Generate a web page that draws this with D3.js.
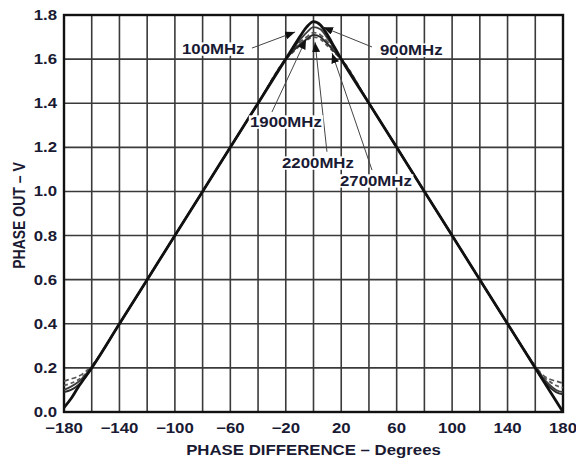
<!DOCTYPE html>
<html>
<head>
<meta charset="utf-8">
<script src="https://cdn.jsdelivr.net/npm/d3@7"></script>
<style>
  html, body { margin: 0; padding: 0; background: #fff; }
  svg { display: block; }
  text { font-family: "Liberation Sans", Arial, sans-serif; font-weight: bold; fill: #1a1a33; }
</style>
</head>
<body>
<svg id="chart" width="576" height="459"></svg>
<script>
// ---- data ----
const phaseDeg = [-180, -175, -170, -165, -160, -140, -120, -100, -80, -60, -40, -20, -15, -10, -5, 0, 5, 10, 15, 20, 40, 60, 80, 100, 120, 140, 160, 165, 170, 175, 180];

const seriesNames = ["100MHz", "900MHz", "1900MHz", "2200MHz", "2700MHz"];

const v100MHz  = [0.02, 0.06, 0.11, 0.155, 0.20, 0.40, 0.60, 0.80, 1.00, 1.20, 1.40, 1.60, 1.65, 1.70, 1.745, 1.77, 1.755, 1.71, 1.655, 1.60, 1.40, 1.20, 1.00, 0.80, 0.60, 0.40, 0.20, 0.15, 0.10, 0.05, 0.00];
const v900MHz  = [0.10, 0.115, 0.135, 0.165, 0.205, 0.40, 0.60, 0.80, 1.00, 1.20, 1.40, 1.60, 1.645, 1.685, 1.72, 1.745, 1.735, 1.695, 1.65, 1.60, 1.40, 1.20, 1.00, 0.80, 0.60, 0.40, 0.205, 0.16, 0.125, 0.10, 0.09];
const v1900MHz = [0.14, 0.15, 0.16, 0.18, 0.21, 0.40, 0.60, 0.80, 1.00, 1.20, 1.40, 1.60, 1.64, 1.675, 1.70, 1.72, 1.71, 1.68, 1.64, 1.60, 1.40, 1.20, 1.00, 0.80, 0.60, 0.40, 0.21, 0.17, 0.15, 0.14, 0.13];
const v2200MHz = [0.09, 0.10, 0.12, 0.155, 0.20, 0.40, 0.60, 0.80, 1.00, 1.20, 1.40, 1.60, 1.635, 1.665, 1.69, 1.71, 1.70, 1.67, 1.635, 1.60, 1.40, 1.20, 1.00, 0.80, 0.60, 0.40, 0.20, 0.15, 0.115, 0.09, 0.08];
const v2700MHz = [0.12, 0.13, 0.145, 0.17, 0.205, 0.40, 0.60, 0.80, 1.00, 1.20, 1.40, 1.60, 1.63, 1.66, 1.685, 1.70, 1.69, 1.66, 1.63, 1.60, 1.40, 1.20, 1.00, 0.80, 0.60, 0.40, 0.205, 0.165, 0.14, 0.12, 0.11];

const xTickLabels = [-180, -140, -100, -60, -20, 20, 60, 100, 140, 180];
const xGrid = [-180, -160, -140, -120, -100, -80, -60, -40, -20, 0, 20, 40, 60, 80, 100, 120, 140, 160, 180];
const yTicks = [0, 0.2, 0.4, 0.6, 0.8, 1.0, 1.2, 1.4, 1.6, 1.8];

// annotation: label, text start (deg, V), leader start (deg, V), arrow tip (deg, V)
const annLabels = ["100MHz", "900MHz", "1900MHz", "2200MHz", "2700MHz"];
const annTextX  = [-94.9, 48.0, -45.8, -22.7, 19.1];
const annTextY  = [1.623, 1.618, 1.292, 1.106, 1.025];
const annFromX  = [-44.4, 42.2, -30.0, 9.7, 42.2];
const annFromY  = [1.650, 1.655, 1.360, 1.180, 1.097];
const annTipX   = [-13.3, 6.9, -5.4, 1.1, 13.4];
const annTipY   = [1.723, 1.745, 1.690, 1.677, 1.627];

const xTitle = "PHASE DIFFERENCE \u2013 Degrees";
const yTitle = "PHASE OUT \u2013 V";

// ---- drawing ----
const svg = d3.select("#chart");
const L = 64, R = 563, T = 15, B = 412;
const SX = 1.2; // horizontal text stretch

const x = d3.scaleLinear().domain([-180, 180]).range([L, R]);
const y = d3.scaleLinear().domain([0, 1.8]).range([B, T]);

// grid
const grid = svg.append("g");
grid.selectAll("line.v").data(xGrid).join("line")
  .attr("x1", d => x(d)).attr("x2", d => x(d))
  .attr("y1", T).attr("y2", B)
  .attr("stroke", "#3a3a3a").attr("stroke-width", 1.6);
grid.selectAll("line.h").data(yTicks).join("line")
  .attr("x1", L).attr("x2", R)
  .attr("y1", d => y(d)).attr("y2", d => y(d))
  .attr("stroke", "#3a3a3a").attr("stroke-width", 1.6);

// frame
svg.append("rect").attr("x", L).attr("y", T).attr("width", R - L).attr("height", B - T)
  .attr("fill", "none").attr("stroke", "#111").attr("stroke-width", 2.4);

// tick labels
svg.append("g").selectAll("g").data(xTickLabels).join("g")
  .attr("transform", d => `translate(${x(d)},433) scale(${SX},1)`)
  .append("text").attr("text-anchor", "middle").style("font-size", "14px")
  .text(d => d3.format("d")(d).replace("-", "\u2212"));

svg.append("g").selectAll("g").data(yTicks).join("g")
  .attr("transform", d => `translate(57,${y(d) + 5}) scale(${SX},1)`)
  .append("text").attr("text-anchor", "end").style("font-size", "14px")
  .text(d => d3.format(".1f")(d));

// axis titles
svg.append("g").attr("transform", `translate(${(L + R) / 2},455) scale(${SX},1)`)
  .append("text").attr("text-anchor", "middle").style("font-size", "14px").text(xTitle);
svg.append("g").attr("transform", `translate(25,${(T + B) / 2 + 2}) scale(${SX},1) rotate(-90)`)
  .append("text").attr("text-anchor", "middle").style("font-size", "14px").text(yTitle);

// curves
const seriesValues = [v100MHz, v900MHz, v1900MHz, v2200MHz, v2700MHz];
const styles = [
  { stroke: "#111", width: 2.8, dash: null },
  { stroke: "#3c3c3c", width: 1.8, dash: null },
  { stroke: "#555", width: 1.7, dash: "5,3" },
  { stroke: "#2a2a2a", width: 1.9, dash: null },
  { stroke: "#5a5a5a", width: 1.7, dash: "4,3" }
];
const line = d3.line().x(d => x(d[0])).y(d => y(d[1])).curve(d3.curveMonotoneX);
const order = [4, 2, 1, 3, 0];
order.forEach(i => {
  const pts = phaseDeg.map((p, k) => [p, seriesValues[i][k]]);
  svg.append("path").datum(pts)
    .attr("d", line)
    .attr("fill", "none")
    .attr("stroke", styles[i].stroke)
    .attr("stroke-width", styles[i].width)
    .attr("stroke-dasharray", styles[i].dash)
    .attr("stroke-linejoin", "round");
});

// annotations
const defs = svg.append("defs");
defs.append("marker").attr("id", "ah")
  .attr("viewBox", "0 0 10 8").attr("refX", 10).attr("refY", 4)
  .attr("markerWidth", 10).attr("markerHeight", 8)
  .attr("markerUnits", "userSpaceOnUse").attr("orient", "auto")
  .append("path").attr("d", "M0,0 L10,4 L0,8 Z").attr("fill", "#111");

const ann = svg.append("g");
annLabels.forEach((lab, i) => {
  ann.append("line")
    .attr("x1", x(annFromX[i])).attr("y1", y(annFromY[i]))
    .attr("x2", x(annTipX[i])).attr("y2", y(annTipY[i]))
    .attr("stroke", "#444").attr("stroke-width", 1)
    .attr("marker-end", "url(#ah)");
});
annLabels.forEach((lab, i) => {
  const g = ann.append("g")
    .attr("transform", `translate(${x(annTextX[i])},${y(annTextY[i])}) scale(${SX},1)`);
  const t = g.append("text").style("font-size", "14px").text(lab);
  const bb = t.node().getBBox();
  g.insert("rect", "text")
    .attr("x", bb.x - 1).attr("y", bb.y + 1)
    .attr("width", bb.width + 2).attr("height", bb.height - 2)
    .attr("fill", "#fff");
});
</script>
</body>
</html>
